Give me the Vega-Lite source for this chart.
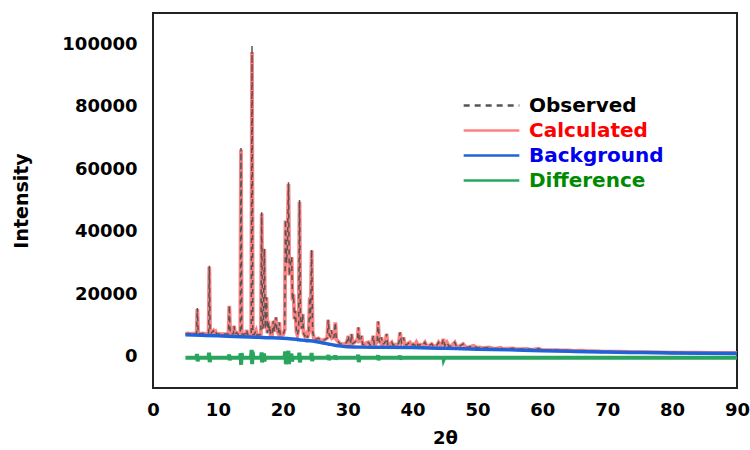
{
  "$schema": "https://vega.github.io/schema/vega-lite/v6.json",
  "width": 584,
  "height": 375,
  "autosize": {"type": "none"},
  "padding": {"left": 153, "top": 13, "right": 13, "bottom": 62},
  "background": "white",
  "config": {
    "view": {"stroke": "#222222", "strokeWidth": 2},
    "axis": {"grid": false, "ticks": false, "domain": false, "labelFont": "DejaVu Sans", "labelFontWeight": "bold", "labelFontSize": 18, "labelColor": "#000000", "titleFont": "DejaVu Sans", "titleFontWeight": "bold", "titleColor": "#000000"},
    "legend": {"labelFont": "DejaVu Sans", "labelFontWeight": "bold", "labelFontSize": 20}
  },
  "datasets": {
    "profile": [
      {"t":5.0,"c":7300,"o":7300},{"t":5.4,"c":7450,"o":7450},{"t":5.8,"c":7350,"o":7350},{"t":6.2,"c":7400,"o":7400},{"t":6.55,"c":7350,"o":7350},{"t":6.72,"c":7500,"o":7500},{"t":6.83,"c":15300,"o":15600},{"t":6.95,"c":7500,"o":7500},{"t":7.3,"c":7400,"o":7400},{"t":7.7,"c":7450,"o":7450},{"t":8.1,"c":7350,"o":7350},{"t":8.4,"c":7400,"o":7400},{"t":8.57,"c":7600,"o":7600},{"t":8.68,"c":28800,"o":29100},{"t":8.8,"c":7900,"o":7900},{"t":9.0,"c":7600,"o":7600},{"t":9.3,"c":8300,"o":8300},{"t":9.45,"c":7500,"o":7500},{"t":9.66,"c":8000,"o":8000},{"t":9.8,"c":7300,"o":7300},{"t":10.2,"c":7300,"o":7300},{"t":10.7,"c":7250,"o":7250},{"t":11.2,"c":7250,"o":7250},{"t":11.63,"c":7300,"o":7300},{"t":11.76,"c":16300,"o":16400},{"t":11.9,"c":7300,"o":7300},{"t":12.25,"c":7250,"o":7250},{"t":12.4,"c":7400,"o":7400},{"t":12.5,"c":9900,"o":9900},{"t":12.62,"c":7300,"o":7300},{"t":12.9,"c":7700,"o":7700},{"t":13.1,"c":7200,"o":7200},{"t":13.45,"c":7300,"o":7300},{"t":13.56,"c":66300,"o":66800},{"t":13.68,"c":7300,"o":7300},{"t":13.95,"c":7200,"o":7200},{"t":14.3,"c":7400,"o":7400},{"t":14.43,"c":8600,"o":8600},{"t":14.55,"c":7200,"o":7200},{"t":14.9,"c":7100,"o":7100},{"t":15.14,"c":7200,"o":7200},{"t":15.26,"c":97500,"o":99600},{"t":15.38,"c":7200,"o":7200},{"t":15.6,"c":7100,"o":7100},{"t":15.87,"c":8300,"o":8300},{"t":16.0,"c":7000,"o":7000},{"t":16.35,"c":7000,"o":7000},{"t":16.63,"c":7200,"o":7200},{"t":16.75,"c":45800,"o":46200},{"t":16.88,"c":9000,"o":9000},{"t":17.0,"c":9800,"o":9800},{"t":17.15,"c":34500,"o":34700},{"t":17.3,"c":9000,"o":9000},{"t":17.5,"c":19000,"o":19000},{"t":17.62,"c":7500,"o":7500},{"t":17.77,"c":11500,"o":11500},{"t":17.88,"c":8000,"o":8000},{"t":18.0,"c":9900,"o":9900},{"t":18.12,"c":7000,"o":7000},{"t":18.35,"c":7000,"o":7000},{"t":18.55,"c":11500,"o":11500},{"t":18.7,"c":8000,"o":8000},{"t":18.95,"c":12600,"o":12600},{"t":19.1,"c":8500,"o":8500},{"t":19.3,"c":7600,"o":7600},{"t":19.47,"c":11000,"o":11000},{"t":19.6,"c":7000,"o":7000},{"t":19.85,"c":6800,"o":6800},{"t":20.1,"c":7200,"o":7200},{"t":20.3,"c":8800,"o":8800},{"t":20.42,"c":43600,"o":43900},{"t":20.58,"c":30000,"o":30000},{"t":20.72,"c":36000,"o":36000},{"t":20.88,"c":55300,"o":55800},{"t":21.0,"c":26000,"o":26000},{"t":21.15,"c":29000,"o":29000},{"t":21.37,"c":31800,"o":32000},{"t":21.5,"c":18000,"o":18000},{"t":21.65,"c":20000,"o":20000},{"t":21.8,"c":12000,"o":12000},{"t":21.95,"c":14700,"o":14700},{"t":22.1,"c":8000,"o":8000},{"t":22.25,"c":7000,"o":7000},{"t":22.45,"c":9000,"o":9000},{"t":22.58,"c":49600,"o":50200},{"t":22.72,"c":12000,"o":12000},{"t":22.9,"c":9000,"o":9000},{"t":23.07,"c":13700,"o":13700},{"t":23.2,"c":7500,"o":7500},{"t":23.4,"c":6600,"o":6600},{"t":23.65,"c":7400,"o":7400},{"t":23.8,"c":6000,"o":6000},{"t":24.0,"c":7800,"o":7800},{"t":24.15,"c":19000,"o":19000},{"t":24.27,"c":12000,"o":12000},{"t":24.45,"c":34000,"o":34300},{"t":24.6,"c":8000,"o":8000},{"t":24.8,"c":6000,"o":6000},{"t":25.1,"c":5600,"o":5600},{"t":25.5,"c":5900,"o":5900},{"t":25.8,"c":5400,"o":5400},{"t":26.2,"c":5200,"o":5200},{"t":26.5,"c":5500,"o":5500},{"t":26.85,"c":6000,"o":6000},{"t":27.0,"c":11800,"o":11800},{"t":27.15,"c":7000,"o":7000},{"t":27.35,"c":6500,"o":6500},{"t":27.5,"c":8500,"o":8500},{"t":27.65,"c":6000,"o":6000},{"t":27.9,"c":6300,"o":6300},{"t":28.1,"c":11000,"o":11000},{"t":28.25,"c":5500,"o":5500},{"t":28.5,"c":5000,"o":5000},{"t":28.8,"c":4200,"o":4200},{"t":29.2,"c":4000,"o":4000},{"t":29.6,"c":4100,"o":4100},{"t":29.9,"c":4800,"o":4800},{"t":30.1,"c":6700,"o":6700},{"t":30.25,"c":4200,"o":4200},{"t":30.45,"c":4300,"o":4300},{"t":30.6,"c":7300,"o":7300},{"t":30.75,"c":4200,"o":4200},{"t":31.0,"c":4500,"o":4500},{"t":31.25,"c":5000,"o":5000},{"t":31.5,"c":5200,"o":5200},{"t":31.65,"c":9400,"o":9400},{"t":31.8,"c":5000,"o":5000},{"t":32.0,"c":5200,"o":5200},{"t":32.15,"c":6700,"o":6700},{"t":32.3,"c":4000,"o":4000},{"t":32.6,"c":3800,"o":3800},{"t":32.9,"c":4400,"o":4400},{"t":33.2,"c":4600,"o":4600},{"t":33.45,"c":3800,"o":3800},{"t":33.75,"c":4500,"o":4500},{"t":33.95,"c":6700,"o":6700},{"t":34.1,"c":4000,"o":4000},{"t":34.35,"c":4200,"o":4200},{"t":34.55,"c":5000,"o":5000},{"t":34.7,"c":11300,"o":11300},{"t":34.85,"c":5000,"o":5000},{"t":35.05,"c":4500,"o":4500},{"t":35.2,"c":6200,"o":6200},{"t":35.35,"c":4000,"o":4000},{"t":35.6,"c":4200,"o":4200},{"t":35.85,"c":5000,"o":5000},{"t":36.0,"c":7300,"o":7300},{"t":36.15,"c":4000,"o":4000},{"t":36.5,"c":3900,"o":3900},{"t":36.8,"c":4600,"o":4600},{"t":37.0,"c":3700,"o":3700},{"t":37.3,"c":3900,"o":3900},{"t":37.6,"c":3600,"o":3600},{"t":37.9,"c":4500,"o":4500},{"t":38.07,"c":7800,"o":7800},{"t":38.3,"c":4500,"o":4500},{"t":38.45,"c":5000,"o":5000},{"t":38.6,"c":6200,"o":6200},{"t":38.8,"c":4000,"o":4000},{"t":39.1,"c":3800,"o":3800},{"t":39.35,"c":4300,"o":4300},{"t":39.6,"c":4600,"o":4600},{"t":39.85,"c":3700,"o":3700},{"t":40.1,"c":4000,"o":4000},{"t":40.35,"c":3600,"o":3600},{"t":40.6,"c":4600,"o":4600},{"t":40.85,"c":3600,"o":3600},{"t":41.2,"c":3900,"o":3900},{"t":41.5,"c":3500,"o":3500},{"t":41.9,"c":4600,"o":4600},{"t":42.2,"c":3400,"o":3400},{"t":42.6,"c":3600,"o":3600},{"t":42.95,"c":4100,"o":4100},{"t":43.3,"c":3300,"o":3300},{"t":43.7,"c":3500,"o":3500},{"t":44.0,"c":4600,"o":4600},{"t":44.3,"c":3600,"o":3600},{"t":44.55,"c":4200,"o":4200},{"t":44.75,"c":5700,"o":5700},{"t":44.95,"c":3600,"o":3600},{"t":45.3,"c":4600,"o":4600},{"t":45.6,"c":3300,"o":3300},{"t":46.0,"c":3500,"o":3500},{"t":46.5,"c":4600,"o":4600},{"t":46.8,"c":3200,"o":3200},{"t":47.2,"c":3300,"o":3300},{"t":47.8,"c":4100,"o":4100},{"t":48.2,"c":3000,"o":3000},{"t":48.7,"c":3100,"o":3100},{"t":49.4,"c":3500,"o":3500},{"t":49.9,"c":2900,"o":2900},{"t":50.4,"c":3000,"o":3000},{"t":50.9,"c":2800,"o":2800},{"t":51.4,"c":2900,"o":2900},{"t":51.9,"c":3000,"o":3000},{"t":52.4,"c":2600,"o":2600},{"t":53.0,"c":2700,"o":2700},{"t":53.5,"c":2900,"o":2900},{"t":54.0,"c":2500,"o":2500},{"t":54.7,"c":2600,"o":2600},{"t":55.5,"c":2700,"o":2700},{"t":56.0,"c":2400,"o":2400},{"t":56.8,"c":2450,"o":2450},{"t":57.6,"c":2500,"o":2500},{"t":58.2,"c":2300,"o":2300},{"t":58.8,"c":2350,"o":2350},{"t":59.4,"c":2550,"o":2550},{"t":60.0,"c":2150,"o":2150},{"t":61.0,"c":2100,"o":2100},{"t":62.0,"c":2150,"o":2150},{"t":63.0,"c":2000,"o":2000},{"t":64.0,"c":2000,"o":2000},{"t":65.0,"c":1900,"o":1900},{"t":66.0,"c":1950,"o":1950},{"t":67.0,"c":1800,"o":1800},{"t":68.0,"c":1800,"o":1800},{"t":69.0,"c":1700,"o":1700},{"t":70.0,"c":1650,"o":1650},{"t":72.0,"c":1600,"o":1600},{"t":74.0,"c":1500,"o":1500},{"t":76.0,"c":1450,"o":1450},{"t":78.0,"c":1400,"o":1400},{"t":80.0,"c":1350,"o":1350},{"t":82.0,"c":1320,"o":1320},{"t":84.0,"c":1280,"o":1280},{"t":86.0,"c":1250,"o":1250},{"t":88.0,"c":1230,"o":1230},{"t":90.0,"c":1200,"o":1200}
    ],
    "background_curve": [
      {"t":5,"v":7000},{"t":7.5,"v":6850},{"t":10,"v":6700},{"t":12.5,"v":6500},{"t":15,"v":6300},{"t":17.5,"v":6100},{"t":20,"v":5900},{"t":21.5,"v":5650},{"t":22.5,"v":5450},{"t":23.5,"v":5200},{"t":25,"v":4900},{"t":26,"v":4500},{"t":27,"v":4100},{"t":28,"v":3700},{"t":29,"v":3400},{"t":30,"v":3200},{"t":32,"v":3080},{"t":35,"v":3050},{"t":40,"v":2950},{"t":45,"v":2700},{"t":50,"v":2420},{"t":55,"v":2200},{"t":60,"v":1920},{"t":65,"v":1700},{"t":70,"v":1500},{"t":75,"v":1350},{"t":80,"v":1200},{"t":85,"v":1100},{"t":90,"v":1050}
    ],
    "difference": [
      {"t":5.0,"v":-300},{"t":6.7,"v":-300},{"t":6.78,"v":900},{"t":6.88,"v":-1500},{"t":6.98,"v":-300},{"t":8.55,"v":-300},{"t":8.64,"v":1300},{"t":8.74,"v":-1700},{"t":8.85,"v":-300},{"t":11.65,"v":-300},{"t":11.73,"v":700},{"t":11.82,"v":-1100},{"t":11.92,"v":-300},{"t":13.4,"v":-300},{"t":13.5,"v":1000},{"t":13.58,"v":-2600},{"t":13.66,"v":1200},{"t":13.76,"v":-300},{"t":15.1,"v":-300},{"t":15.2,"v":2200},{"t":15.28,"v":-2400},{"t":15.36,"v":1600},{"t":15.46,"v":-300},{"t":16.65,"v":-300},{"t":16.74,"v":1400},{"t":16.82,"v":-1800},{"t":16.95,"v":-300},{"t":17.1,"v":1100},{"t":17.18,"v":-1500},{"t":17.3,"v":-300},{"t":20.25,"v":-300},{"t":20.38,"v":1700},{"t":20.48,"v":-2400},{"t":20.6,"v":1300},{"t":20.74,"v":-600},{"t":20.86,"v":1900},{"t":20.95,"v":-2300},{"t":21.08,"v":-300},{"t":21.33,"v":1000},{"t":21.42,"v":-1500},{"t":21.55,"v":-300},{"t":22.48,"v":-300},{"t":22.56,"v":1300},{"t":22.64,"v":-1800},{"t":22.75,"v":-300},{"t":24.35,"v":-300},{"t":24.44,"v":1200},{"t":24.53,"v":-1400},{"t":24.65,"v":-300},{"t":26.95,"v":-300},{"t":27.03,"v":600},{"t":27.1,"v":-1100},{"t":27.2,"v":-300},{"t":28.02,"v":-300},{"t":28.08,"v":500},{"t":28.15,"v":-900},{"t":28.25,"v":-300},{"t":31.55,"v":-300},{"t":31.63,"v":700},{"t":31.71,"v":-1700},{"t":31.82,"v":-300},{"t":34.6,"v":-300},{"t":34.68,"v":500},{"t":34.76,"v":-1100},{"t":34.87,"v":-300},{"t":37.98,"v":-300},{"t":38.05,"v":400},{"t":38.12,"v":-900},{"t":38.22,"v":-300},{"t":44.68,"v":-300},{"t":44.74,"v":200},{"t":44.8,"v":-800},{"t":44.9,"v":-300},{"t":90.0,"v":-350}
    ]
  },
  "encoding": {
    "x": {"field": "t", "type": "quantitative", "scale": {"domain": [0, 90], "nice": false, "zero": false}, "axis": {"title": "2θ", "values": [0,10,20,30,40,50,60,70,80,90], "labelPadding": 13, "titlePadding": 10, "titleFontSize": 18, "labelFlush": false}}
  },
  "layer": [
    {
      "data": {"name": "profile"},
      "mark": {"type": "line", "strokeWidth": 3.8, "interpolate": "linear"},
      "encoding": {
        "y": {"field": "c", "type": "quantitative", "scale": {"domain": [-10000, 110000], "nice": false, "zero": false}, "axis": {"title": "Intensity", "values": [0,20000,40000,60000,80000,100000], "format": "d", "labelPadding": 16, "titlePadding": 30, "titleFontSize": 19}},
        "color": {"datum": "Calculated", "type": "nominal", "scale": {"domain": ["Observed","Calculated","Background","Difference"], "range": ["#555555","#ff8080","#1f63d8","#2aa55e"]},
          "legend": {"title": null, "orient": "none", "legendX": 309, "legendY": 80, "symbolType": "stroke", "symbolSize": 3100, "symbolStrokeWidth": 2.5, "labelOffset": 8, "rowPadding": 0, "clipHeight": 25,
            "encode": {
              "labels": {"update": {"fill": [{"test": "datum.value === 'Observed'", "value": "#000000"}, {"test": "datum.value === 'Calculated'", "value": "#ff0000"}, {"test": "datum.value === 'Background'", "value": "#0000ee"}, {"value": "#008a00"}]}},
              "symbols": {"update": {"strokeDash": [{"test": "datum.value === 'Observed'", "value": [6, 5]}, {"value": [1, 0]}]}}
            }}}
      }
    },
    {
      "data": {"name": "profile"},
      "mark": {"type": "line", "strokeWidth": 1.5, "strokeDash": [5, 4]},
      "encoding": {
        "y": {"field": "o", "type": "quantitative"},
        "color": {"datum": "Observed", "type": "nominal"}
      }
    },
    {
      "data": {"name": "background_curve"},
      "mark": {"type": "line", "strokeWidth": 3.5, "interpolate": "monotone"},
      "encoding": {
        "y": {"field": "v", "type": "quantitative"},
        "color": {"datum": "Background", "type": "nominal"}
      }
    },
    {
      "data": {"name": "difference"},
      "mark": {"type": "line", "strokeWidth": 4},
      "encoding": {
        "y": {"field": "v", "type": "quantitative"},
        "color": {"datum": "Difference", "type": "nominal"}
      }
    }
  ]
}
